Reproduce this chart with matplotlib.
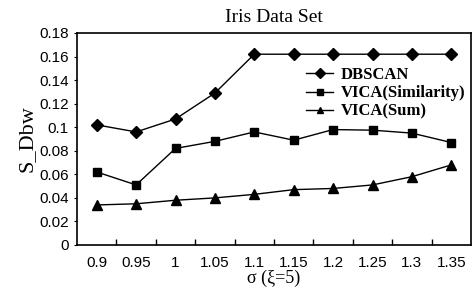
import matplotlib
matplotlib.use("Agg")
import matplotlib.pyplot as plt
import numpy as np

categories = ["0.9", "0.95", "1", "1.05", "1.1", "1.15", "1.2", "1.25", "1.3", "1.35"]
dbscan = [0.102, 0.096, 0.107, 0.129, 0.162, 0.162, 0.162, 0.162, 0.162, 0.162]
vica_sim = [0.062, 0.051, 0.082, 0.088, 0.096, 0.089, 0.098, 0.0975, 0.095, 0.087]
vica_sum = [0.034, 0.035, 0.038, 0.040, 0.043, 0.047, 0.048, 0.051, 0.058, 0.068]
yticks = [0, 0.02, 0.04, 0.06, 0.08, 0.1, 0.12, 0.14, 0.16, 0.18]
ytick_labels = ["0", "0.02", "0.04", "0.06", "0.08", "0.1", "0.12", "0.14", "0.16", "0.18"]

fig = plt.figure(figsize=(4.77, 2.91), dpi=100)
ax = fig.add_axes([77/477, 1-245/291, (471-77)/477, (245-33)/291])

x = np.arange(len(categories))
ax.plot(x, dbscan, color="black", lw=1, marker="D", ms=6, label="DBSCAN")
ax.plot(x, vica_sim, color="black", lw=1, marker="s", ms=6, label="VICA(Similarity)")
ax.plot(x, vica_sum, color="black", lw=1, marker="^", ms=7, label="VICA(Sum)")

ax.set_xlim(-0.5, len(categories) - 0.5)
ax.set_ylim(0, 0.18)
ax.set_yticks(yticks)
ax.set_yticklabels(ytick_labels, family="Liberation Sans", fontsize=11)
ax.set_xticks(x)
ax.set_xticklabels(categories, family="Liberation Sans", fontsize=11)
ax.tick_params(axis="x", length=0, pad=8)
ax.set_xticks(np.arange(0.5, len(categories) - 1, 1), minor=True)
ax.tick_params(axis="x", which="minor", direction="in", length=4, width=1)
ax.tick_params(axis="y", direction="out", length=2, pad=4)
for s in ax.spines.values():
    s.set_linewidth(1.2)

ax.set_title("Iris Data Set", family="Liberation Serif", fontsize=14, pad=8)
ax.set_ylabel("S_Dbw", family="Liberation Serif", fontsize=16, labelpad=2)
ax.set_xlabel("σ (ξ=5)", family="Liberation Serif", fontsize=13, labelpad=0)

leg = ax.legend(loc="upper right", bbox_to_anchor=(1.002, 0.871), frameon=False,
                prop={"family": "Liberation Serif", "weight": "bold", "size": 12},
                handlelength=1.6, handletextpad=0.45, labelspacing=0.14, borderaxespad=0.0)
for h in leg.legend_handles:
    h.set_markersize(5)

fig.savefig("out.png", dpi=100)
